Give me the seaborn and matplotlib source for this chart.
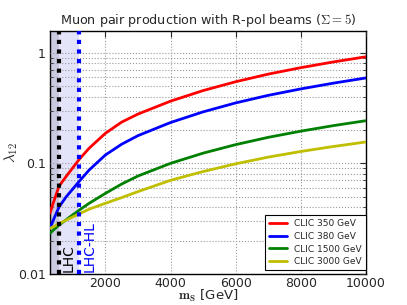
import numpy as np
import pandas as pd
import matplotlib
matplotlib.use("Agg")
import matplotlib.pyplot as plt
import seaborn as sns

# ---- data ----
mass = [300, 400, 580, 800, 1200, 1500, 2000, 2500, 3000, 4000, 5000, 6000, 7000, 8000, 9000, 10000]
clic_350 = [0.0355, 0.044, 0.0625, 0.0765, 0.109, 0.137, 0.187, 0.236, 0.279, 0.365, 0.455, 0.547, 0.641, 0.733, 0.826, 0.92]
clic_380 = [0.026, 0.0307, 0.0405, 0.050, 0.069, 0.087, 0.119, 0.149, 0.178, 0.234, 0.292, 0.352, 0.412, 0.471, 0.531, 0.592]
clic_1500 = [0.0233, 0.0249, 0.0277, 0.0310, 0.0378, 0.0435, 0.0535, 0.065, 0.0768, 0.100, 0.1236, 0.1476, 0.1718, 0.1954, 0.2193, 0.243]
clic_3000 = [0.0258, 0.0267, 0.0285, 0.0307, 0.0350, 0.0385, 0.0435, 0.049, 0.0555, 0.0702, 0.0843, 0.099, 0.1138, 0.128, 0.142, 0.156]
series_labels = ["CLIC 350 GeV", "CLIC 380 GeV", "CLIC 1500 GeV", "CLIC 3000 GeV"]
series_colors = ["#ff0000", "#0000ff", "#008000", "#bfbf00"]
lhc_limit = 580
lhc_hl_limit = 1200
x_ticks = [2000, 4000, 6000, 8000, 10000]
y_ticks = [0.01, 0.1, 1]
y_tick_labels = ["0.01", "0.1", "1"]

rows = []
for lab, vals in zip(series_labels, [clic_350, clic_380, clic_1500, clic_3000]):
    for m, v in zip(mass, vals):
        rows.append({"m": m, "lam": v, "series": lab})
df = pd.DataFrame(rows)

sns.set_style("white")
plt.rcParams["font.family"] = ["DejaVu Sans"]
plt.rcParams["mathtext.fontset"] = "cm"

fig = plt.figure(figsize=(4.07, 3.05), dpi=100)
ax = fig.add_axes([0.123, 0.102, 0.776, 0.796])

ax.axvspan(300, lhc_hl_limit, color=(0.89, 0.89, 0.98), zorder=0, lw=0)
ax.axvspan(300, lhc_limit, color=(0.79, 0.79, 0.88), zorder=0, lw=0)

sns.lineplot(data=df, x="m", y="lam", hue="series", hue_order=series_labels,
             palette=dict(zip(series_labels, series_colors)), linewidth=2,
             ax=ax, legend=False, zorder=3)

ax.axvline(lhc_limit, color="black", ls=(0, (1, 1.3)), lw=3, zorder=4)
ax.axvline(lhc_hl_limit, color="blue", ls=(0, (1, 1.3)), lw=3, zorder=4)
ax.text(lhc_limit + 90, 0.0105, "LHC", rotation=90, color="black", fontsize=10,
        ha="left", va="bottom")
ax.text(lhc_hl_limit + 90, 0.0105, "LHC-HL", rotation=90, color="blue", fontsize=10,
        ha="left", va="bottom")

ax.set_yscale("log")
ax.set_xlim(300, 10000)
ax.set_ylim(0.01, 1.57)
ax.set_xticks(x_ticks)
ax.set_xticklabels([str(t) for t in x_ticks])
ax.set_yticks(y_ticks)
ax.set_yticklabels(y_tick_labels)
ax.tick_params(axis="both", which="major", labelsize=9, direction="in", length=4,
               top=True, right=True, pad=3)
ax.tick_params(axis="x", which="major", pad=2)
ax.tick_params(axis="y", which="minor", direction="in", length=2, right=True, left=True)
ax.yaxis.set_minor_formatter(matplotlib.ticker.NullFormatter())

ax.grid(True, which="major", axis="both", color="#999999", ls=":", lw=0.8)
ax.grid(True, which="minor", axis="y", color="#999999", ls=":", lw=0.8)
ax.set_axisbelow(False)

for s in ax.spines.values():
    s.set_color("black")
    s.set_linewidth(1.0)

ax.set_title(r"Muon pair production with R-pol beams ($\Sigma=5$)", fontsize=9.2, pad=5)
ax.set_xlabel(r"$\mathbf{m_S}$ [GeV]", fontsize=9.5, labelpad=-1.2)
ax.set_ylabel(r"$\lambda_{12}$", fontsize=11)
ax.yaxis.set_label_coords(-0.095, 0.5)

handles = [matplotlib.lines.Line2D([], [], color=c, lw=2) for c in series_colors]
leg = ax.legend(handles, series_labels, loc="lower right", bbox_to_anchor=(1.0, 0.015),
                fontsize=6.5, frameon=True, fancybox=False, edgecolor="black",
                framealpha=1, handlelength=2, borderaxespad=0, labelspacing=0.4,
                borderpad=0.45)
leg.get_frame().set_linewidth(0.8)

fig.savefig("out.png", dpi=100)
